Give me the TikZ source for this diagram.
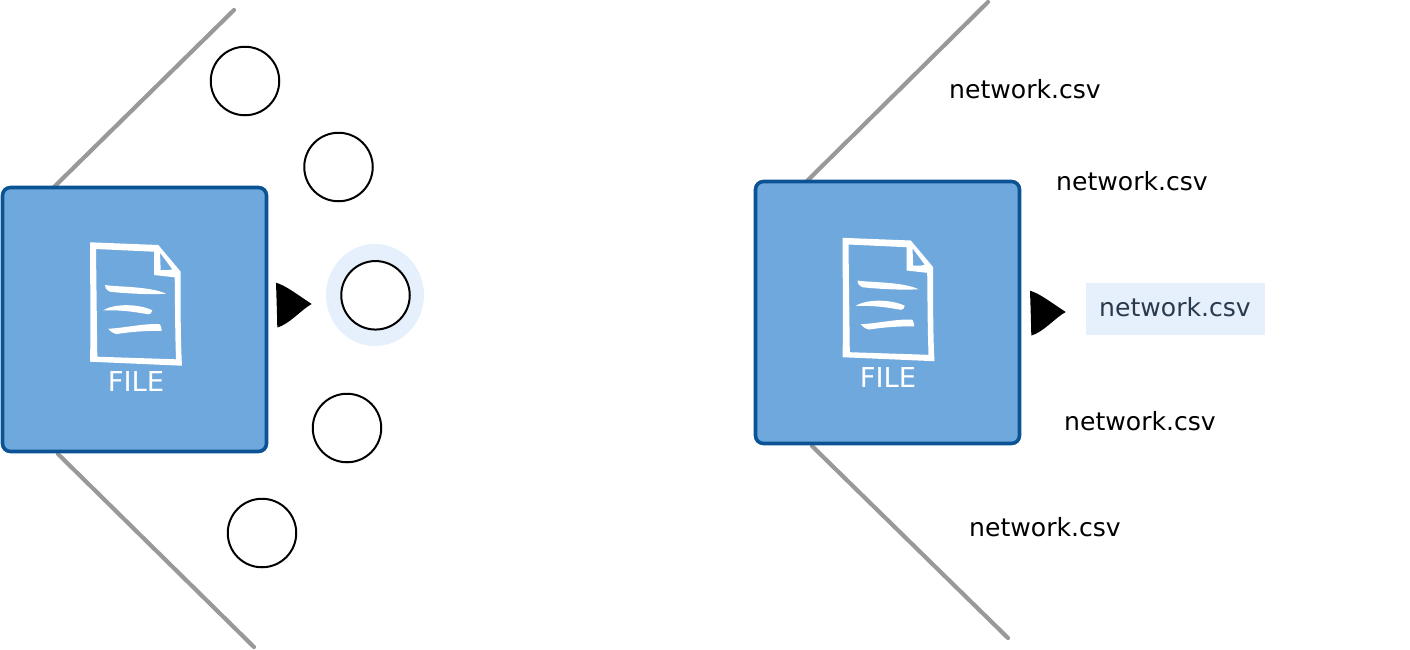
\documentclass[tikz,border=0pt]{standalone}
\usepackage{fontspec}
\usetikzlibrary{shapes.geometric}
\setmainfont{DejaVu Sans}
\definecolor{boxfill}{HTML}{6FA8DC}
\definecolor{boxline}{HTML}{0B5394}
\definecolor{rayc}{HTML}{999999}
\definecolor{hilite}{HTML}{E6F0FC}
\definecolor{hitext}{HTML}{2A3A4C}
\tikzset{
  filebox/.style={draw=boxline,fill=boxfill,line width=3.6pt,rounded corners=8pt,inner sep=0pt,outer sep=0pt,anchor=north west},
  ray/.style={draw=rayc,line width=4.2pt,line cap=round},
  slot/.style={circle,draw=black,fill=white,line width=2pt,minimum size=68.5pt,inner sep=0pt,outer sep=0pt},
  halo/.style={ellipse,fill=hilite,minimum width=98pt,minimum height=102pt,inner sep=0pt,outer sep=0pt},
  csv/.style={font=\fontsize{25.1pt}{28pt}\selectfont,text=black,inner sep=0pt},
  hibox/.style={fill=hilite,minimum width=179pt,minimum height=52pt,inner sep=0pt,outer sep=0pt},
  filelabel/.style={font=\fontsize{27.4pt}{30pt}\selectfont,text=white,inner sep=0pt},
  pics/docicon/.style={code={
    \fill[white,even odd rule]
      (90,242.3) -- (158.3,245) -- (180.7,271.7) .. controls (180.5,300) and (180.5,340) .. (182,365.7) -- (90,361.7) .. controls (91,320) and (90,280) .. (90,242.3) -- cycle
      (96,249) -- (97.3,356.7) -- (176,359.3) .. controls (175,330) and (175,300) .. (174.7,277.3) -- (154,275) -- (154,251.7) -- cycle
      (160,252.7) -- (172.3,269.3) .. controls (168,270.5) and (164,270.3) .. (160.7,270) -- cycle;
    \fill[white] (105,285) .. controls (115,287) and (150,286) .. (166,293.7) .. controls (150,295) and (120,293) .. (110,291.7) .. controls (106,290) and (104.5,287) .. (105,285) -- cycle;
    \fill[white] (103.3,310.3) .. controls (115,303) and (140,304) .. (152.3,310.3) .. controls (152,313) and (150,314.5) .. (148.3,314.3) .. controls (130,311) and (118,310) .. (103.3,310.3) -- cycle;
    \fill[white] (108.3,328.7) .. controls (125,328) and (145,323) .. (160,324.3) .. controls (161,327) and (162,329) .. (161.7,331) .. controls (145,330.5) and (130,332) .. (116.7,334) .. controls (113,333.5) and (110,331) .. (108.3,328.7) -- cycle;
  }},
  pics/playmark/.style={code={
    \fill[black] (276,282.7) .. controls (286,285.5) and (300,296.5) .. (311.7,304) .. controls (302,309) and (289,324.5) .. (277.3,327.5) .. controls (277,312) and (276.5,298) .. (276,282.7) -- cycle;
  }}
}
\begin{document}
\begin{tikzpicture}[x=1pt,y=-1pt]
\useasboundingbox (0,0) rectangle (1410,649);

% free ends of the rays
\coordinate (lt) at (234,10);
\coordinate (lb) at (254,647);
\coordinate (rt) at (988,2);
\coordinate (rb) at (1008,638);
\coordinate (ltb) at (54,187);
\coordinate (lbb) at (58,454);
\coordinate (rtb) at (807,181);
\coordinate (rbb) at (812,446);
\draw[ray] (ltb) -- (lt);
\draw[ray] (lbb) -- (lb);
\draw[ray] (rtb) -- (rt);
\draw[ray] (rbb) -- (rb);

% left panel
\node[filebox,minimum width=264pt,minimum height=264pt] (fileL) at (2.5,187.5) {};
\pic at (0,0) {docicon};
\node[filelabel] (fileLtxt) at (136,382) {FILE};
\pic at (0,0) {playmark};
\node[slot] (c1) at (245,81) {};
\node[slot] (c2) at (338.5,167) {};
\node[halo] (c3h) at (375,295) {};
\node[slot] (c3) at (375.5,295.3) {};
\node[slot] (c4) at (347,428) {};
\node[slot] (c5) at (262,533) {};

% right panel
\node[filebox,minimum width=264pt,minimum height=262pt] (fileR) at (755.5,181.5) {};
\pic at (752.5,-4.5) {docicon};
\node[filelabel] (fileRtxt) at (888,377.5) {FILE};
\pic at (754,8) {playmark};
\node[csv] (n1) at (1025,89) {network.csv};
\node[csv] (n2) at (1132,181) {network.csv};
\node[hibox] (n3b) at (1175.5,309) {};
\node[csv,text=hitext] (n3) at (1175,307) {network.csv};
\node[csv] (n4) at (1140,421) {network.csv};
\node[csv] (n5) at (1045,527) {network.csv};
\end{tikzpicture}
\end{document}
